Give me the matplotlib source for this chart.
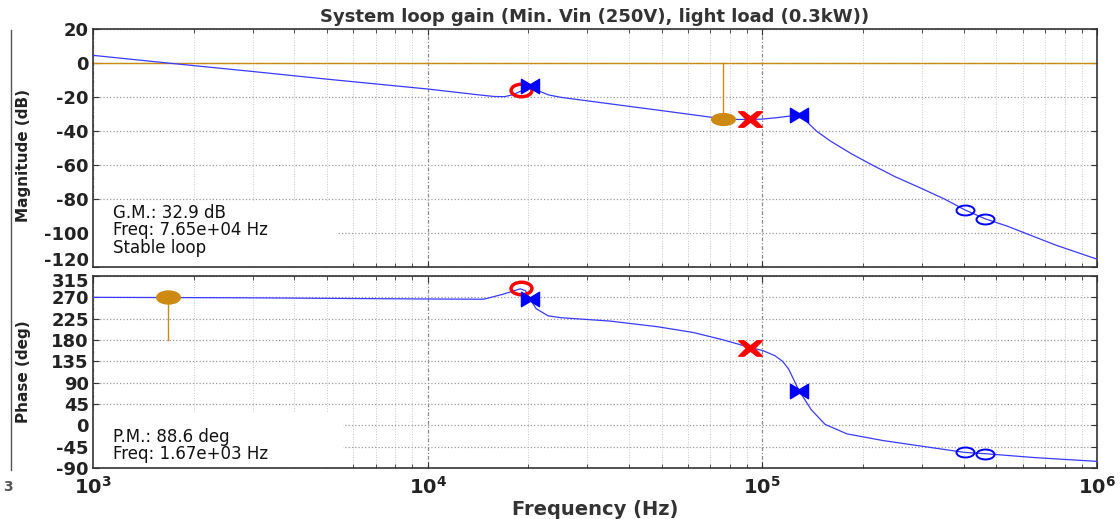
import matplotlib
matplotlib.use("Agg")
import matplotlib.pyplot as plt
from matplotlib.path import Path
from matplotlib.patches import Rectangle
from matplotlib.lines import Line2D
from matplotlib.transforms import Affine2D, ScaledTranslation
from matplotlib.ticker import LogLocator, NullFormatter, FixedLocator

# loop gain magnitude
mag_freq = [1000, 1670, 3000, 5000, 10000, 14000, 15800, 17000, 18000, 19000, 20200,
            21500, 23000, 25000, 35000, 50000, 65000, 76500, 85000, 92000, 100000,
            110000, 120000, 128500, 135000, 145000, 160000, 185000, 213000, 250000,
            293000, 350000, 403000, 464000, 540000, 612000, 750000, 1000000]
mag_db = [4.5, 0, -5.0, -9.5, -15.3, -18.6, -19.7, -19.8, -18.6, -16.5, -13.3,
          -16.5, -18.8, -20.2, -24, -28, -31, -32.9, -33.2, -33.2, -33,
          -32.2, -31.3, -30.8, -34, -40, -46, -53.5, -60, -67,
          -73, -80, -86.4, -91.7, -96, -100.2, -107, -115.4]

# loop gain phase
ph_freq = [1000, 3000, 6000, 10000, 14700, 16600, 18000, 18900, 19600, 20200, 21100,
           22900, 25000, 35000, 48600, 62000, 75700, 85000, 92000, 100000, 109000,
           115000, 120000, 128500, 140000, 154000, 179000, 229000, 293000, 401000,
           467000, 650000, 1000000]
ph_deg = [270, 269, 267.5, 266.5, 266, 275.6, 283, 288, 284, 267, 246,
          231, 227, 220, 208, 196, 181, 171, 164, 158, 147,
          135, 118, 74, 33, 2, -18, -32, -43, -57,
          -60, -68, -76]

# margins
gm_freq, gm_db = 76500, -32.9
pm_freq, pm_deg = 1670, 270
gm_text = ["G.M.: 32.9 dB", "Freq: 7.65e+04 Hz", "Stable loop"]
pm_text = ["P.M.: 88.6 deg", "Freq: 1.67e+03 Hz"]

# special points: (freq, mag, phase)
red_circle = (19000, -16, 289)
red_cross = (92000, -33.2, 164)
blue_bowtie_f = [20200, 128500]
blue_bowtie_mag = [-13.3, -30.8]
blue_bowtie_ph = [267, 73]
blue_circle_f = [403000, 464000]
blue_circle_mag = [-86.4, -91.7]
blue_circle_ph = [-57, -59.5]

mag_ticks = list(range(-120, 21, 20))
ph_ticks = list(range(-90, 316, 45))

ORANGE = "#cc8a12"
LINE_BLUE = "#3a3aff"
FONT = "DejaVu Sans"

def ellipse(ry):
    return Path.unit_circle().transformed(Affine2D().scale(1, ry))

bowtie = Path([(-1, -0.8), (-1, 0.8), (0, 0.2), (1, 0.8), (1, -0.8), (0, -0.2), (-1, -0.8)],
              [Path.MOVETO] + [Path.LINETO] * 5 + [Path.CLOSEPOLY])
xcross = Path([(-1, -0.65), (-0.55, -0.65), (0, -0.22), (0.55, -0.65), (1, -0.65), (0.35, 0),
               (1, 0.65), (0.55, 0.65), (0, 0.22), (-0.55, 0.65), (-1, 0.65), (-0.35, 0),
               (-1, -0.65)],
              [Path.MOVETO] + [Path.LINETO] * 11 + [Path.CLOSEPOLY])

fig = plt.figure(figsize=(11.2, 5.19), dpi=100)
ax1 = fig.add_axes([93 / 1120, 1 - 267 / 519, 1004 / 1120, 238 / 519])
ax2 = fig.add_axes([93 / 1120, 1 - 468 / 519, 1004 / 1120, 192 / 519])

for ax in (ax1, ax2):
    ax.set_xscale("log")
    ax.set_xlim(1e3, 1e6)
    ax.set_axisbelow(True)
    ax.xaxis.set_major_locator(LogLocator(base=10, numticks=10))
    ax.xaxis.set_minor_locator(LogLocator(base=10, subs=range(2, 10), numticks=20))
    ax.xaxis.set_minor_formatter(NullFormatter())
    ax.xaxis.grid(True, which="major", ls=(0, (3, 1.5, 1, 1.5)), color="#8a8a8a", lw=0.9)
    ax.xaxis.grid(True, which="minor", ls=":", color="#c8c8c8", lw=0.7)
    ax.yaxis.grid(True, which="major", ls=":", color="#9a9a9a", lw=0.9)
    ax.tick_params(which="both", direction="in", top=True, right=True, color="#333333")
    ax.tick_params(which="major", length=4)
    ax.tick_params(which="minor", length=3)
    for s in ax.spines.values():
        s.set_color("#333333")
        s.set_linewidth(1.2)

# ---- magnitude ----
ax1.set_ylim(mag_ticks[0], mag_ticks[-1])
ax1.yaxis.set_major_locator(FixedLocator(mag_ticks))
ax1.set_yticklabels([str(v) for v in mag_ticks], fontsize=13, fontweight="bold",
                    family=FONT, color="#222222")
ax1.tick_params(axis="y", pad=3)
ax1.xaxis.set_major_formatter(NullFormatter())
ax1.add_patch(Rectangle((0, 0), 0.243, 0.275, transform=ax1.transAxes,
                        facecolor="white", edgecolor="none", zorder=1))
ax1.axhline(0, color=ORANGE, lw=1.0, zorder=2)
ax1.plot([gm_freq, gm_freq], [0, gm_db], color=ORANGE, lw=1.0, zorder=2)
ax1.plot(mag_freq, mag_db, color=LINE_BLUE, lw=0.9, zorder=3)
ax1.plot([gm_freq], [gm_db], ls="none", marker=ellipse(0.5), ms=17, color=ORANGE, zorder=4)
ax1.plot([red_circle[0]], [red_circle[1]], ls="none", marker=ellipse(0.6), ms=15,
         mfc="none", mec="red", mew=2.5, zorder=4)
ax1.plot([red_cross[0]], [red_cross[1]], ls="none", marker=xcross, ms=17, color="red", zorder=4)
ax1.plot(blue_bowtie_f, blue_bowtie_mag, ls="none", marker=bowtie, ms=13, color="blue", zorder=4)
ax1.plot(blue_circle_f, blue_circle_mag, ls="none", marker=ellipse(0.55), ms=13,
         mfc="none", mec="blue", mew=1.4, zorder=4)
for i, t in enumerate(gm_text):
    ax1.text(0.02, 0.228 - i * 0.074, t, transform=ax1.transAxes, fontsize=12,
             family=FONT, color="#111111", va="center", zorder=5)
ax1.set_ylabel("Magnitude (dB)", fontsize=11, fontweight="bold",
               family=["Liberation Sans Narrow", FONT], color="#222222")
ax1.yaxis.set_label_coords(-62 / 1004, 0.47)
ax1.set_title("System loop gain (Min. Vin (250V), light load (0.3kW))", fontsize=13,
              fontweight="bold", family=FONT, color="#333333", pad=5)

# ---- phase ----
ax2.set_ylim(ph_ticks[0], ph_ticks[-1])
ax2.yaxis.set_major_locator(FixedLocator(ph_ticks))
ax2.set_yticklabels([str(v) for v in ph_ticks], fontsize=13, fontweight="bold",
                    family=FONT, color="#222222")
ax2.tick_params(axis="y", pad=3)
ax2.set_xticks([1e3, 1e4, 1e5, 1e6])
ax2.set_xticklabels([r"$\mathbf{10^{3}}$", r"$\mathbf{10^{4}}$", r"$\mathbf{10^{5}}$",
                     r"$\mathbf{10^{6}}$"], fontsize=14, color="#222222")
ax2.tick_params(axis="x", which="major", pad=6)
ax2.add_patch(Rectangle((0, 0), 0.249, 0.29, transform=ax2.transAxes,
                        facecolor="white", edgecolor="none", zorder=1))
ax2.plot([pm_freq, pm_freq], [180, pm_deg], color=ORANGE, lw=1.0, zorder=2)
ax2.plot(ph_freq, ph_deg, color=LINE_BLUE, lw=0.9, zorder=3)
ax2.plot([pm_freq], [pm_deg], ls="none", marker=ellipse(0.55), ms=17, color=ORANGE, zorder=4)
ax2.plot([red_circle[0]], [red_circle[2]], ls="none", marker=ellipse(0.6), ms=15,
         mfc="none", mec="red", mew=2.5, zorder=4)
ax2.plot([red_cross[0]], [red_cross[2]], ls="none", marker=xcross, ms=17, color="red", zorder=4)
ax2.plot(blue_bowtie_f, blue_bowtie_ph, ls="none", marker=bowtie, ms=13, color="blue", zorder=4)
ax2.plot(blue_circle_f, blue_circle_ph, ls="none", marker=ellipse(0.55), ms=13,
         mfc="none", mec="blue", mew=1.4, zorder=4)
for i, t in enumerate(pm_text):
    ax2.text(0.02, 0.163 - i * 0.09, t, transform=ax2.transAxes, fontsize=12,
             family=FONT, color="#111111", va="center", zorder=5)
ax2.set_ylabel("Phase (deg)", fontsize=11, fontweight="bold",
               family=["Liberation Sans Narrow", FONT], color="#222222")
ax2.yaxis.set_label_coords(-62 / 1004, 0.5)
ax2.set_xlabel("Frequency (Hz)", fontsize=14, fontweight="bold", family=FONT,
               color="#333333", labelpad=1)

# pull the -120 / 315 labels apart a little, they sit on the shared border
bottom_lab = ax1.get_yticklabels()[0]
bottom_lab.set_va("bottom")
bottom_lab.set_transform(bottom_lab.get_transform() + ScaledTranslation(0, -2 / 72, fig.dpi_scale_trans))
top_lab = ax2.get_yticklabels()[-1]
top_lab.set_va("top")
top_lab.set_transform(top_lab.get_transform() + ScaledTranslation(0, 2 / 72, fig.dpi_scale_trans))

# stray border from the original screenshot
fig.add_artist(Line2D([11 / 1120, 11 / 1120], [1 - 470 / 519, 1 - 30 / 519],
                      color="#555555", lw=1.0))
fig.text(3 / 1120, 1 - 487 / 519, "3", fontsize=10, fontweight="bold", color="#555555",
         va="center")

fig.savefig("out.png", dpi=100)
